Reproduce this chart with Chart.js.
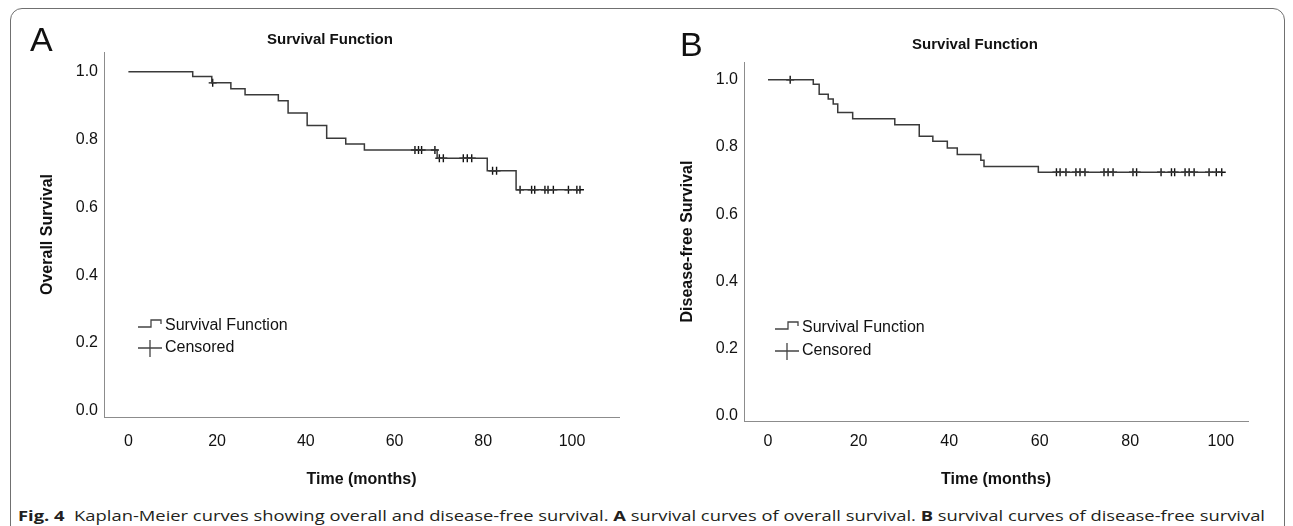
<!DOCTYPE html>
<html>
<head>
<meta charset="utf-8">
<script src="https://cdn.jsdelivr.net/npm/chart.js@4.4.1/dist/chart.umd.min.js"></script>
<style>
  html, body { margin: 0; padding: 0; background: #fff; }
  body { width: 1293px; height: 526px; position: relative; overflow: hidden; font-family: "Liberation Sans", Arial, sans-serif; }
  .frame { position: absolute; left: 10px; top: 8px; width: 1275px; height: 530px; border: 1.2px solid #707070; border-radius: 12px; box-sizing: border-box; }
  canvas { position: absolute; top: 0; }
  #chartA { left: 0; }
  #chartB { left: 645px; }
  .letter { position: absolute; font-size: 34px; line-height: 34px; color: #111; }
  .caption { position: absolute; left: 18px; top: 506px; font-family: "Open Sans", sans-serif; font-size: 15px; line-height: 18px; white-space: nowrap; transform-origin: left top; color: #231f20; }
</style>
</head>
<body>
<div class="frame"></div>
<canvas id="chartA" width="645" height="490"></canvas>
<canvas id="chartB" width="648" height="490"></canvas>
<div class="letter" style="left:30px; top:22px;">A</div>
<div class="letter" style="left:680px; top:27px;">B</div>
<div class="caption" id="caption"><b>Fig. 4</b>&nbsp; Kaplan-Meier curves showing overall and disease-free survival. <b>A</b> survival curves of overall survival. <b>B</b> survival curves of disease-free survival</div>

<script>
// Kaplan-Meier curves, values

const xTicks = [0, 20, 40, 60, 80, 100];
const yTicks = [0, 0.2, 0.4, 0.6, 0.8, 1.0];

// A - overall survival: time of each drop (months) and survival after it
const osTime = [0, 14.5, 18.8, 23.1, 26.3, 33.8, 36.0, 40.3, 44.7, 49.0, 53.2, 69.6, 80.9, 87.4];
const osSurv = [1.0, 0.986, 0.967, 0.950, 0.932, 0.914, 0.878, 0.841, 0.804, 0.787, 0.769, 0.745, 0.708, 0.652];
const osCensored = [19.0, 64.6, 65.4, 66.1, 69.1, 70.1, 71.0, 75.5, 76.4, 77.4, 82.1, 83.0,
                    88.3, 90.9, 91.6, 93.9, 94.6, 95.8, 99.2, 101.1, 101.8];

// B - disease-free survival
const dfsTime = [0, 10.0, 11.3, 13.3, 14.4, 15.4, 18.7, 28.0, 33.4, 36.4, 39.6, 41.8, 47.0, 47.7, 59.7];
const dfsSurv = [1.0, 0.987, 0.957, 0.943, 0.928, 0.903, 0.884, 0.866, 0.832, 0.817, 0.797, 0.778, 0.761, 0.742, 0.725];
const dfsCensored = [4.9, 63.7, 64.5, 65.8, 68.0, 68.9, 70.0, 74.2, 75.1, 76.2, 80.6, 81.4,
                     86.8, 89.1, 89.8, 92.1, 93.0, 94.1, 97.4, 99.0, 100.2];

const FONT = "'Liberation Sans', Arial, sans-serif";
Chart.defaults.font.family = FONT;
Chart.defaults.color = '#111';

function survivalAt(times, surv, t) {
    let s = surv[0];
    for (let i = 0; i < times.length; i++) {
        if (times[i] <= t) s = surv[i];
    }
    return s;
}

function stepPoints(times, surv, censored) {
    const pts = times.map((t, i) => ({ x: t, y: surv[i] }));
    const end = Math.max(...censored, times[times.length - 1]);
    pts.push({ x: end, y: surv[surv.length - 1] });
    return pts;
}

// title + SPSS style legend drawn inside the plot
const panelText = {
    id: 'panelText',
    afterDraw(chart, args, opts) {
        const ctx = chart.ctx;
        ctx.save();
        ctx.fillStyle = '#111';
        ctx.textBaseline = 'middle';
        ctx.font = 'bold 15px ' + FONT;
        ctx.textAlign = 'center';
        ctx.fillText('Survival Function', opts.titleX, opts.titleY);

        const lx = opts.legendX;
        const [y1, y2] = opts.legendY;
        ctx.strokeStyle = '#444';
        ctx.lineWidth = 1.3;
        ctx.beginPath();
        ctx.moveTo(lx, y1 + 1);
        ctx.lineTo(lx + 13, y1 + 1);
        ctx.lineTo(lx + 13, y1 - 6);
        ctx.lineTo(lx + 23, y1 - 6);
        ctx.lineTo(lx + 23, y1 - 2);
        ctx.moveTo(lx, y2);
        ctx.lineTo(lx + 24, y2);
        ctx.moveTo(lx + 12, y2 - 8);
        ctx.lineTo(lx + 12, y2 + 9);
        ctx.stroke();

        ctx.font = '16px ' + FONT;
        ctx.textAlign = 'left';
        ctx.fillText('Survival Function', lx + 27, y1);
        ctx.fillText('Censored', lx + 27, y2);
        ctx.restore();
    }
};

function renderPanel(id, p) {
    const censorPts = p.censored.map(t => ({ x: t, y: survivalAt(p.times, p.surv, t) }));

    return new Chart(document.getElementById(id), {
        type: 'line',
        data: {
            datasets: [{
                label: 'Survival Function',
                data: stepPoints(p.times, p.surv, p.censored),
                stepped: true,
                borderColor: '#3a3a3a',
                borderWidth: 1.5,
                pointRadius: 0,
                fill: false
            }, {
                label: 'Censored',
                type: 'scatter',
                data: censorPts,
                pointStyle: 'cross',
                pointRadius: 4,
                borderColor: '#111',
                borderWidth: 1.4,
                showLine: false
            }]
        },
        options: {
            responsive: false,
            animation: false,
            layout: { padding: { top: p.top, right: p.right, left: 0, bottom: 0 } },
            plugins: {
                legend: { display: false },
                tooltip: { enabled: false },
                panelText: p.text
            },
            scales: {
                x: {
                    type: 'linear',
                    min: p.xMin,
                    max: p.xMax,
                    afterBuildTicks: axis => { axis.ticks = xTicks.map(v => ({ value: v })); },
                    afterFit: axis => { axis.height = p.xAxisHeight; },
                    grid: { display: false, drawTicks: false },
                    border: { display: true, color: '#8c8c8c', width: 1 },
                    ticks: { padding: p.xTickPad, font: { size: 16 }, color: '#111' },
                    title: {
                        display: true,
                        text: 'Time (months)',
                        font: { size: 16, weight: 'bold' },
                        color: '#111',
                        padding: { top: 0, bottom: 1 }
                    }
                },
                y: {
                    min: p.yMin,
                    max: p.yMax,
                    afterBuildTicks: axis => { axis.ticks = yTicks.map(v => ({ value: v })); },
                    afterFit: axis => { axis.width = p.yAxisWidth; },
                    grid: { display: false, drawTicks: false },
                    border: { display: true, color: '#8c8c8c', width: 1 },
                    ticks: {
                        padding: 6,
                        font: { size: 16 },
                        color: '#111',
                        callback: v => v.toFixed(1)
                    },
                    title: {
                        display: true,
                        text: p.yTitle,
                        font: { size: 16, weight: 'bold' },
                        color: '#111',
                        padding: { top: p.yTitlePad, bottom: 0 }
                    }
                }
            }
        },
        plugins: [panelText]
    });
}

renderPanel('chartA', {
    times: osTime, surv: osSurv, censored: osCensored,
    yTitle: 'Overall Survival',
    xMin: -5.5, xMax: 110.6, yMin: -0.018, yMax: 1.058,
    top: 52, right: 26, yAxisWidth: 104, yTitlePad: 38,
    xAxisHeight: 490 - 417, xTickPad: 15,
    text: { titleX: 330, titleY: 40, legendX: 138, legendY: [326, 348] }
});

renderPanel('chartB', {
    times: dfsTime, surv: dfsSurv, censored: dfsCensored,
    yTitle: 'Disease-free Survival',
    xMin: -5.3, xMax: 106, yMin: -0.015, yMax: 1.053,
    top: 62, right: 45, yAxisWidth: 99, yTitlePad: 33,
    xAxisHeight: 490 - 421, xTickPad: 11,
    text: { titleX: 330, titleY: 45, legendX: 130, legendY: [328, 351] }
});

// squeeze the caption onto one line across the frame
const cap = document.getElementById('caption');
const w = cap.getBoundingClientRect().width;
cap.style.transform = 'scaleX(' + (1247 / w).toFixed(4) + ')';
</script>
</body>
</html>
